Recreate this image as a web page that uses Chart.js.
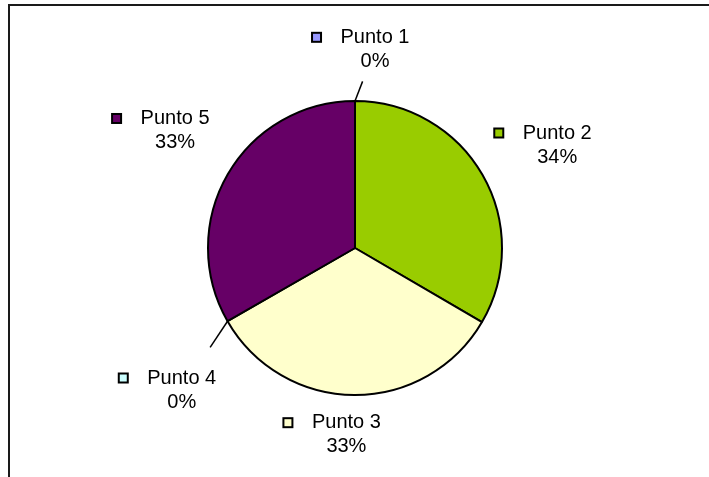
<!DOCTYPE html>
<html>
<head>
<meta charset="utf-8">
<script src="https://cdn.jsdelivr.net/npm/chart.js@4.4.0/dist/chart.umd.min.js"></script>
<style>
  html, body { margin: 0; padding: 0; background: #fff; }
  #wrap { width: 709px; height: 477px; position: relative; }
</style>
</head>
<body>
<div id="wrap"><canvas id="pieChart"></canvas></div>
<script>
// Datos
const categorias = ['Punto 1', 'Punto 2', 'Punto 3', 'Punto 4', 'Punto 5'];
const valores = [0, 33.4, 33.3, 0, 33.3];
const porcentajes = ['0%', '34%', '33%', '0%', '33%'];
const colores = ['#9999FF', '#99CC00', '#FFFFCC', '#CCFFFF', '#660066'];

// Frame: top + left line only
const marco = {
    id: 'marco',
    afterDraw(chart) {
        const ctx = chart.ctx;
        ctx.save();
        ctx.strokeStyle = '#1a1a1a';
        ctx.lineWidth = 2;
        ctx.beginPath();
        ctx.moveTo(709, 5);
        ctx.lineTo(9, 5);
        ctx.lineTo(9, 477);
        ctx.stroke();
        ctx.restore();
    }
};

// Excel-style data labels: legend key + name, percent underneath
const etiquetas = {
    id: 'etiquetas',
    afterDatasetsDraw(chart, args, opts) {
        const ctx = chart.ctx;
        const meta = chart.getDatasetMeta(0);
        ctx.save();
        ctx.font = '20px "Liberation Sans", Arial, sans-serif';
        ctx.textBaseline = 'middle';
        ctx.fillStyle = '#000';
        meta.data.forEach((arc, i) => {
            const p = arc.getProps(['x', 'y', 'startAngle', 'endAngle', 'outerRadius'], true);
            const mid = (p.startAngle + p.endAngle) / 2;
            const r = p.outerRadius;
            const nud = opts.desplazamientos[i];
            const cx = p.x + Math.cos(mid) * r * opts.rx + nud[0];
            const cy = p.y + Math.sin(mid) * r * opts.ry + nud[1];

            // leader line for zero slices
            if (valores[i] === 0) {
                const ex = p.x + Math.cos(mid) * r;
                const ey = p.y + Math.sin(mid) * r;
                ctx.strokeStyle = '#000';
                ctx.lineWidth = 1.5;
                ctx.beginPath();
                ctx.moveTo(ex, ey);
                ctx.lineTo(ex + (cx - ex) * 0.38, ey + (cy - ey) * 0.38);
                ctx.stroke();
            }

            const nombre = categorias[i];
            const w = ctx.measureText(nombre).width;
            const left = cx - w / 2;
            ctx.textAlign = 'left';
            ctx.fillText(nombre, left, cy - 12);
            ctx.textAlign = 'center';
            ctx.fillText(porcentajes[i], cx, cy + 12);

            // legend key
            const bx = left - 24, by = cy - 12;
            ctx.fillStyle = colores[i];
            ctx.fillRect(bx - 4.5, by - 4.5, 9, 9);
            ctx.strokeStyle = '#000';
            ctx.lineWidth = 2;
            ctx.strokeRect(bx - 4.5, by - 4.5, 9, 9);
            ctx.fillStyle = '#000';
        });
        ctx.restore();
    }
};

new Chart(document.getElementById('pieChart'), {
    type: 'pie',
    data: {
        labels: categorias,
        datasets: [{
            data: valores,
            backgroundColor: colores,
            borderColor: '#000',
            borderWidth: 2,
            radius: 147,
        }]
    },
    options: {
        responsive: true,
        maintainAspectRatio: false,
        animation: false,
        layout: { padding: { left: 1, right: 0, top: 19, bottom: 0 } },
        plugins: {
            legend: { display: false },
            tooltip: { enabled: false },
            etiquetas: {
                rx: 1.32,
                ry: 1.27,
                desplazamientos: [[20, -12], [34, -10], [-8, 0], [-5, 49], [-12, -24]]
            }
        }
    },
    plugins: [marco, etiquetas]
});
</script>
</body>
</html>
